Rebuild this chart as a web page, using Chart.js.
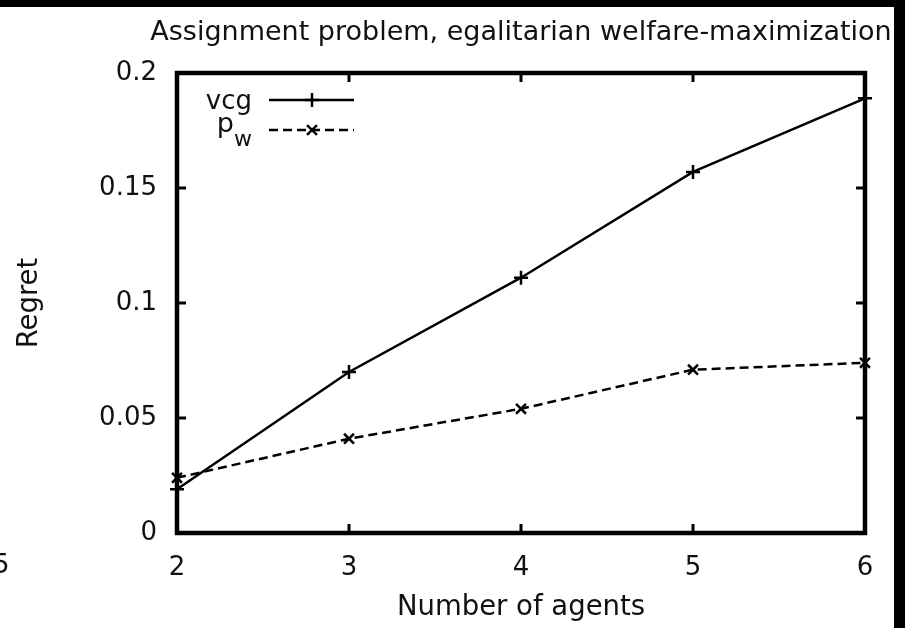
<!DOCTYPE html>
<html><head><meta charset="utf-8">
<script src="https://cdn.jsdelivr.net/npm/chart.js@4.4.1/dist/chart.umd.min.js"></script>
<style>html,body{margin:0;padding:0;background:#fff;}canvas{display:block;}</style>
</head><body>
<canvas id="c" width="905" height="628"></canvas>
<script>
const agents = [2, 3, 4, 5, 6];
const vcgRegret = [0.019, 0.070, 0.111, 0.157, 0.189];
const pwRegret = [0.024, 0.041, 0.054, 0.071, 0.074];
const xTickValues = [2, 3, 4, 5, 6];
const xTickLabels = ['2', '3', '4', '5', '6'];
const yTickValues = [0, 0.05, 0.1, 0.15, 0.2];
const yTickLabels = ['0', '0.05', '0.1', '0.15', '0.2'];
const chartTitle = 'Assignment problem, egalitarian welfare-maximization';
const xAxisTitle = 'Number of agents';
const yAxisTitle = 'Regret';
const seriesNames = ['vcg', 'pw'];

const FONT = '"DejaVu Sans", "Liberation Sans", sans-serif';
const TXT = '#111';

function labelFor(values, labels, v) {
  for (let i = 0; i < values.length; i++) if (Math.abs(values[i] - v) < 1e-9) return labels[i];
  return '';
}

const framePlugin = {
  id: 'frame',
  beforeDraw(chart) {
    const ctx = chart.ctx;
    const a = chart.chartArea;
    ctx.save();
    ctx.fillStyle = '#fff';
    ctx.fillRect(0, 0, chart.width, chart.height);
    ctx.fillStyle = '#000';
    ctx.fillRect(0, 0, chart.width, 7);
    ctx.fillRect(894, 0, chart.width - 894, chart.height);
    ctx.fillStyle = TXT;
    // chart title, centred over the plot area
    ctx.font = '27px ' + FONT;
    ctx.textAlign = 'center';
    ctx.textBaseline = 'middle';
    ctx.fillText(chartTitle, (a.left + a.right) / 2, 33);
    // cut-off label fragment from neighbouring figure
    ctx.font = '26px ' + FONT;
    ctx.textAlign = 'left';
    ctx.fillText('5', -7, 566);
    ctx.restore();
  },
  afterDraw(chart) {
    const ctx = chart.ctx;
    const a = chart.chartArea;
    const xs = chart.scales.x, ys = chart.scales.y;
    ctx.save();
    ctx.strokeStyle = '#000';
    ctx.lineWidth = 3;
    ctx.beginPath();
    xs.ticks.forEach(t => {
      if (t.value <= xs.min || t.value >= xs.max) return;
      const px = xs.getPixelForValue(t.value);
      ctx.moveTo(px, a.bottom); ctx.lineTo(px, a.bottom - 9);
      ctx.moveTo(px, a.top); ctx.lineTo(px, a.top + 9);
    });
    ys.ticks.forEach(t => {
      if (t.value <= ys.min + 1e-9 || t.value >= ys.max - 1e-9) return;
      const py = ys.getPixelForValue(t.value);
      ctx.moveTo(a.left, py); ctx.lineTo(a.left + 9, py);
      ctx.moveTo(a.right, py); ctx.lineTo(a.right - 9, py);
    });
    ctx.stroke();
    ctx.lineWidth = 4.5;
    ctx.strokeRect(a.left, a.top, a.right - a.left, a.bottom - a.top);

    // legend
    const ds = chart.data.datasets;
    const lx0 = 269, lx1 = 354, mx = 312;
    const rows = [100, 130];
    ctx.fillStyle = TXT;
    ctx.textAlign = 'right';
    ctx.textBaseline = 'alphabetic';
    ctx.font = '26px ' + FONT;
    ctx.fillText(seriesNames[0], 252, 109);
    ctx.font = '22px ' + FONT;
    const wW = ctx.measureText(seriesNames[1].slice(1)).width;
    ctx.fillText(seriesNames[1].slice(1), 252, 146);
    ctx.font = '27px ' + FONT;
    ctx.fillText(seriesNames[1].slice(0, 1), 252 - wW, 132);

    ds.forEach((d, i) => {
      const y = rows[i];
      ctx.strokeStyle = d.borderColor;
      ctx.lineWidth = d.borderWidth;
      ctx.setLineDash(d.borderDash || []);
      ctx.beginPath();
      ctx.moveTo(lx0, y); ctx.lineTo(lx1, y);
      ctx.stroke();
      ctx.setLineDash([]);
      ctx.lineWidth = d.pointBorderWidth;
      ctx.beginPath();
      const r = d.pointRadius;
      if (d.pointStyle === 'cross') {
        ctx.moveTo(mx - r, y); ctx.lineTo(mx + r, y);
        ctx.moveTo(mx, y - r); ctx.lineTo(mx, y + r);
      } else {
        const q = r * Math.SQRT1_2;
        ctx.moveTo(mx - q, y - q); ctx.lineTo(mx + q, y + q);
        ctx.moveTo(mx - q, y + q); ctx.lineTo(mx + q, y - q);
      }
      ctx.stroke();
    });
    ctx.restore();
  }
};

new Chart(document.getElementById('c'), {
  type: 'line',
  data: {
    datasets: [
      {
        label: seriesNames[0],
        data: agents.map((x, i) => ({ x: x, y: vcgRegret[i] })),
        borderColor: '#000', backgroundColor: '#000',
        borderWidth: 2.5, pointStyle: 'cross', pointRadius: 7,
        pointBorderWidth: 2.5, pointBorderColor: '#000',
        fill: false, tension: 0, clip: false
      },
      {
        label: seriesNames[1],
        data: agents.map((x, i) => ({ x: x, y: pwRegret[i] })),
        borderColor: '#000', backgroundColor: '#000',
        borderWidth: 2.5, borderDash: [9, 5], pointStyle: 'crossRot', pointRadius: 7,
        pointBorderWidth: 2.5, pointBorderColor: '#000',
        fill: false, tension: 0, clip: false
      }
    ]
  },
  options: {
    responsive: false,
    animation: false,
    devicePixelRatio: 1,
    layout: { padding: { left: 0, right: 40, top: 73, bottom: 0 } },
    plugins: {
      legend: { display: false },
      tooltip: { enabled: false },
      title: { display: false }
    },
    scales: {
      x: {
        type: 'linear', min: 2, max: 6,
        afterFit(s) { s.height = 95; },
        afterBuildTicks(s) { s.ticks = xTickValues.map(v => ({ value: v })); },
        grid: { display: false, drawTicks: false },
        border: { display: false },
        ticks: {
          color: TXT, padding: 20, maxRotation: 0,
          font: { family: FONT, size: 26, lineHeight: 1.2 },
          callback: v => labelFor(xTickValues, xTickLabels, v)
        },
        title: {
          display: true, text: xAxisTitle, color: TXT,
          font: { family: FONT, size: 27.5, lineHeight: 1.2 },
          padding: { top: 0, bottom: 3.5 }
        }
      },
      y: {
        type: 'linear', min: 0, max: 0.2,
        afterFit(s) { s.width = 177; },
        afterBuildTicks(s) { s.ticks = yTickValues.map(v => ({ value: v })); },
        grid: { display: false, drawTicks: false },
        border: { display: false },
        ticks: {
          color: TXT, padding: 20,
          font: { family: FONT, size: 26, lineHeight: 1.2 },
          callback: v => labelFor(yTickValues, yTickLabels, v)
        },
        title: {
          display: true, text: yAxisTitle, color: TXT,
          font: { family: FONT, size: 27.5, lineHeight: 1.2 },
          padding: { top: 13.5, bottom: 0 }
        }
      }
    }
  },
  plugins: [framePlugin]
});
</script>
</body></html>
